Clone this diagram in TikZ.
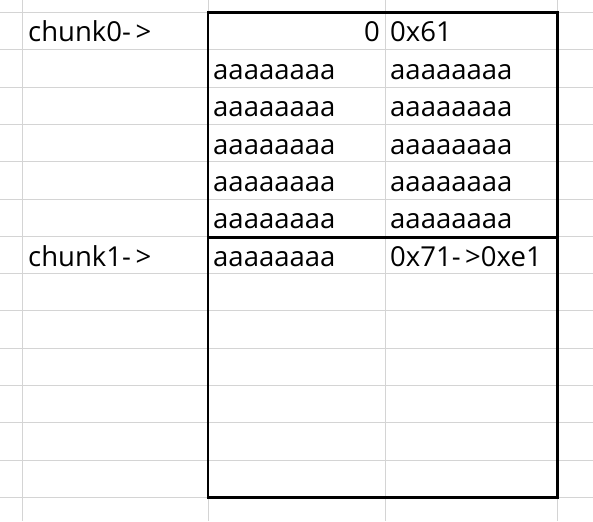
\documentclass[tikz,border=0pt]{standalone}
\usepackage{fontspec}
\setmainfont{Open Sans}
\usetikzlibrary{positioning}
\definecolor{gridgray}{RGB}{212,212,212}

\begin{document}
\begin{tikzpicture}[x=1pt,y=-1pt,
    grid/.style={draw=gridgray, line width=1pt},
    frame/.style={draw=black, line width=2.4pt},
    cell/.style={inner sep=0pt, anchor=base west,
        font=\fontsize{27.5}{32}\selectfont},
    numcell/.style={cell, anchor=base east}
]
\useasboundingbox (0,0) rectangle (593,521);
% sheet grid
\foreach \k in {0,...,13}
    \draw[grid] (0,{12.5+\k*37.3}) -- (593,{12.5+\k*37.3});
\foreach \x in {22.5,208,385,557.5}
    \draw[grid] (\x,0) -- (\x,521);
% chunk box
\coordinate (boxtl) at (208,12.5);
\coordinate (boxbr) at (557.5,497.4);
\coordinate (splitl) at (208,237.3);
\coordinate (splitr) at (557.5,237.3);
\draw[frame] (boxtl) rectangle (boxbr);
\draw[frame] (splitl) -- (splitr);
% chunk0 header
\node[cell] (chunk0) at (28,42) {chunk0-\,>};
\node[numcell] (prev0) at (380,42) {0};
\node[cell] (size0) at (390,42) {0x61};
% chunk0 data
\foreach \k in {1,...,5} {
    \node[cell] (dl\k) at (213,{5+(\k+1)*37.3}) {aaaaaaaa};
    \node[cell] (dr\k) at (390,{5+(\k+1)*37.3}) {aaaaaaaa};
}
% chunk1 header
\node[cell] (chunk1) at (28,266.5) {chunk1-\,>};
\node[cell] (prev1) at (213,266.5) {aaaaaaaa};
\node[cell] (size1) at (390,266.5) {0x71-\,>0xe1};
\end{tikzpicture}
\end{document}
